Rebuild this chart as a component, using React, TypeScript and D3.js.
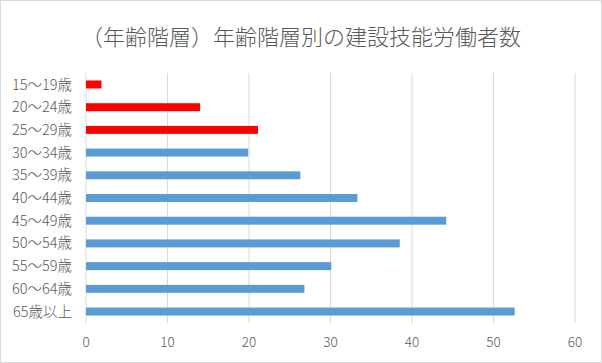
import React, { useEffect, useRef } from 'react'
import * as d3 from 'd3'

const title = '（年齢階層）年齢階層別の建設技能労働者数'

const categories = [
  '15〜19歳', '20〜24歳', '25〜29歳', '30〜34歳', '35〜39歳', '40〜44歳',
  '45〜49歳', '50〜54歳', '55〜59歳', '60〜64歳', '65歳以上'
]
const values = [1.9, 14.0, 21.1, 19.9, 26.3, 33.3, 44.2, 38.5, 30.1, 26.8, 52.6]
const highlighted = [true, true, true, false, false, false, false, false, false, false, false]
const xTicks = [0, 10, 20, 30, 40, 50, 60]

const W = 602
const H = 363
const FONT = '"Noto Sans CJK JP", "Noto Sans", sans-serif'

export default function App() {
  const svgRef = useRef<SVGSVGElement>(null)

  useEffect(() => {
    if (!svgRef.current) return
    document.body.style.margin = '0'

    const svg = d3.select(svgRef.current)
    svg.selectAll('*').remove()

    const margin = { top: 73, right: 27, bottom: 40, left: 86 }
    const innerW = W - margin.left - margin.right
    const innerH = H - margin.top - margin.bottom

    // chart frame
    svg.append('rect')
      .attr('x', 0.5).attr('y', 0.5)
      .attr('width', W - 1).attr('height', H - 1)
      .attr('fill', '#fff')
      .attr('stroke', '#d9d9d9')

    svg.append('text')
      .attr('x', W / 2)
      .attr('y', 45)
      .attr('text-anchor', 'middle')
      .attr('font-family', FONT)
      .attr('font-size', 22)
      .attr('font-weight', 300)
      .attr('fill', '#595959')
      .text(title)

    const g = svg.append('g')
      .attr('transform', `translate(${margin.left},${margin.top})`)

    const x = d3.scaleLinear().domain([0, 60]).range([0, innerW])
    const y = d3.scaleBand().domain(categories).range([0, innerH]).paddingInner(0.65).paddingOuter(0.33)

    // gridlines
    g.selectAll('line.grid')
      .data(xTicks)
      .join('line')
      .attr('class', 'grid')
      .attr('x1', d => x(d)).attr('x2', d => x(d))
      .attr('y1', 0).attr('y2', innerH)
      .attr('stroke', '#d9d9d9')
      .attr('stroke-width', 1)

    // bars
    g.selectAll('rect.bar')
      .data(categories)
      .join('rect')
      .attr('class', 'bar')
      .attr('x', x(0))
      .attr('y', d => y(d)!)
      .attr('width', (_, i) => x(values[i]) - x(0))
      .attr('height', y.bandwidth())
      .attr('fill', (_, i) => highlighted[i] ? '#ff0000' : '#5b9bd5')

    // category labels
    g.selectAll('text.cat')
      .data(categories)
      .join('text')
      .attr('class', 'cat')
      .attr('x', -14)
      .attr('y', d => y(d)! + y.bandwidth() / 2)
      .attr('dy', '0.35em')
      .attr('text-anchor', 'end')
      .attr('font-family', FONT)
      .attr('font-size', 14.5)
      .attr('font-weight', 300)
      .attr('fill', '#595959')
      .text(d => d)

    // x tick labels
    g.selectAll('text.tick')
      .data(xTicks)
      .join('text')
      .attr('class', 'tick')
      .attr('x', d => x(d))
      .attr('y', innerH + 19)
      .attr('dy', '0.35em')
      .attr('text-anchor', 'middle')
      .attr('font-family', FONT)
      .attr('font-size', 13.5)
      .attr('font-weight', 300)
      .attr('fill', '#595959')
      .text(d => String(d))
  }, [])

  return (
    <svg ref={svgRef} width={W} height={H} style={{ position: 'absolute', left: 0, top: 0 }} />
  )
}
